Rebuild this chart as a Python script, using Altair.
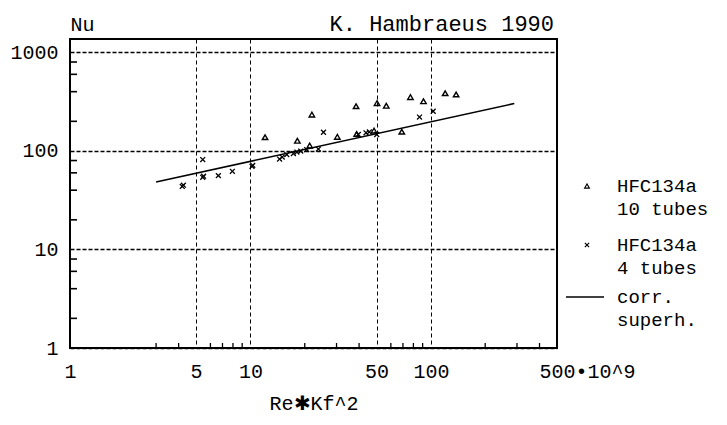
import altair as alt
import pandas as pd

# ---- data ----
tri_x = [12.05, 18.2, 21.3, 21.9, 30.3, 38.5, 38.8, 48.4, 50.3, 56.6, 69, 77, 91, 120, 138]
tri_y = [138, 127, 113.5, 234, 139, 285, 149, 161, 306, 288, 157, 352, 320, 386, 375]

crs_x = [4.19, 4.25, 5.44, 5.44, 5.5, 6.64, 7.94, 10.2, 10.3, 14.5, 15.0, 15.9, 17.3,
         18.1, 19.0, 20.5, 23.8, 25.4, 39.6, 43.7, 45.6, 50.1, 86.5, 103]
crs_y = [43.7, 45, 81.8, 54.0, 55.5, 56.2, 62.2, 69.9, 71.5, 82.7, 86.7, 91.9, 94.1,
         97.5, 99.8, 103.3, 104.5, 155, 147, 153, 156, 147, 221, 253]

corr_x = [3.0, 290.0]
corr_y = [48.5, 303.0]

x_labels = [1, 5, 10, 50, 100, 500]
y_labels = [1, 10, 100, 1000]
x_minor = [3, 4, 6, 7, 8, 9, 20, 30, 40, 60, 70, 80, 90, 200, 300, 400]
y_minor = [2, 4, 6, 8, 20, 40, 60, 80, 200, 400, 600, 800]

legend_lines = [
    ("HFC134a", 186), ("10 tubes", 209),
    ("HFC134a", 245), ("4 tubes", 268),
    ("corr.", 297), ("superh.", 320),
]
title_text = "K. Hambraeus 1990"

# ---- layout ----
FONT = "Liberation Mono"
W, H = 487, 309
OX, OY = 70, 39  # page position of plot origin

xscale = alt.Scale(type="log", domain=[1, 500], nice=False)
yscale = alt.Scale(type="log", domain=[1, 1370], nice=False)

xaxis = alt.Axis(
    values=x_labels, title="Re\u2731Kf^2", grid=True, gridDash=[4, 3],
    gridColor="black", gridWidth=1, gridOpacity=1, ticks=False, domain=False,
    labelFont=FONT, labelFontSize=20, labelColor="black", labelPadding=13,
    labelExpr="datum.value == 500 ? '500\u202210^9' : format(datum.value, 'd')",
    labelAlign={"condition": {"test": "datum.value == 500", "value": "left"}, "value": "center"},
    labelOffset={"condition": {"test": "datum.value == 500", "value": -18}, "value": 0},
    labelOverlap=False, labelFlush=False, labelBound=False,
    titleFont=FONT, titleFontSize=20, titleFontWeight="normal", titleColor="black",
    titleY=55, titleBaseline="middle",
)
yaxis = alt.Axis(
    values=y_labels, title="Nu", grid=True, gridDash=[4, 2], gridColor="black",
    gridWidth=1.6, gridOpacity=1, ticks=False, domain=False,
    labelFont=FONT, labelFontSize=20, labelColor="black", labelPadding=12,
    labelExpr="format(datum.value, 'd')", labelOverlap=False, labelFlush=False,
    titleFont=FONT, titleFontSize=20, titleFontWeight="normal", titleColor="black",
    titleAngle=0, titleAlign="left", titleBaseline="middle", titleX=0, titleY=-15,
)

X = alt.X("x:Q", scale=xscale, axis=xaxis)
Y = alt.Y("y:Q", scale=yscale, axis=yaxis)

CROSS = "M-1,-1L1,1M-1,1L1,-1"

tri = alt.Chart(pd.DataFrame({"x": tri_x, "y": tri_y})).mark_point(
    shape="triangle-up", filled=False, size=30, strokeWidth=1.4, color="black", opacity=1
).encode(x=X, y=Y)

crs = alt.Chart(pd.DataFrame({"x": crs_x, "y": crs_y})).mark_point(
    shape=CROSS, filled=False, size=24, strokeWidth=1.3, color="black", opacity=1
).encode(x=X, y=Y)

corr = alt.Chart(pd.DataFrame({"x": corr_x, "y": corr_y})).mark_line(
    color="black", strokeWidth=1.6
).encode(x=X, y=Y)

xm = alt.Chart(pd.DataFrame({"x": x_minor})).mark_rule(color="black", strokeWidth=1.3).encode(
    x=X, y=alt.value(H), y2=alt.value(H - 5)
)
ym = alt.Chart(pd.DataFrame({"y": y_minor})).mark_rule(color="black", strokeWidth=1.6).encode(
    y=Y, x=alt.value(0), x2=alt.value(7)
)

one = alt.Data(values=[{}])
title = alt.Chart(one).mark_text(
    text=title_text, align="right", baseline="middle", font=FONT, fontSize=22, color="black"
).encode(x=alt.value(W - 3), y=alt.value(24 - OY))

legend = []
for s, py in legend_lines:
    legend.append(
        alt.Chart(one).mark_text(
            text=s, align="left", baseline="middle", font=FONT, fontSize=19, color="black"
        ).encode(x=alt.value(617 - OX), y=alt.value(py - OY))
    )
legend.append(
    alt.Chart(one).mark_point(shape="triangle-up", filled=False, size=22, strokeWidth=1.2,
                              color="black", opacity=1)
    .encode(x=alt.value(587 - OX), y=alt.value(186 - OY))
)
legend.append(
    alt.Chart(one).mark_point(shape=CROSS, filled=False, size=18, strokeWidth=1.2,
                              color="black", opacity=1)
    .encode(x=alt.value(587 - OX), y=alt.value(245 - OY))
)
legend.append(
    alt.Chart(one).mark_rule(color="black", strokeWidth=1.3)
    .encode(x=alt.value(566 - OX), x2=alt.value(604 - OX), y=alt.value(297 - OY))
)

chart = alt.layer(corr, tri, crs, xm, ym, title, *legend).properties(
    width=W, height=H,
    autosize=alt.AutoSizeParams(type="none"),
    padding={"left": 62, "top": 31, "right": 162, "bottom": 69},
    background="white",
).configure_view(stroke="black", strokeWidth=2)

chart.save("out.html", embed_options={"renderer": "svg", "actions": False})
